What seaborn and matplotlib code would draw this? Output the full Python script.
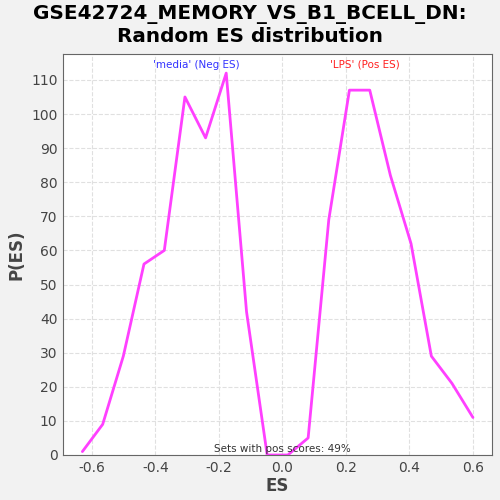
import matplotlib
matplotlib.use("Agg")
import matplotlib.pyplot as plt
import seaborn as sns
import pandas as pd

# ES values and their probabilities
es = [-0.630, -0.566, -0.501, -0.436, -0.372, -0.307, -0.242, -0.177, -0.113, -0.048,
      0.017, 0.081, 0.146, 0.211, 0.275, 0.340, 0.405, 0.469, 0.534, 0.600]
p_es = [1, 9, 29, 56, 60, 105, 93, 112, 42, 0,
        0, 5, 69, 107, 107, 82, 62, 29, 21, 11]
x_ticks = [-0.6, -0.4, -0.2, 0.0, 0.2, 0.4, 0.6]
y_ticks = [0, 10, 20, 30, 40, 50, 60, 70, 80, 90, 100, 110]

df = pd.DataFrame({'ES': es, 'P': p_es})

sns.set_style('white')
fig = plt.figure(figsize=(5, 5), dpi=100, facecolor='#f2f2f2')
ax = fig.add_axes([0.126, 0.09, 0.858, 0.802])
ax.set_facecolor('white')

sns.lineplot(x='ES', y='P', data=df, ax=ax, color='#ff40ff', linewidth=2)

ax.set_xlim(-0.691, 0.66)
ax.set_ylim(0, 117.6)
ax.set_xticks(x_ticks)
ax.set_xticklabels([f'{t:.1f}' for t in x_ticks])
ax.set_yticks(y_ticks)
ax.grid(True, color='#e0e0e0', linestyle='--', linewidth=0.8)
for s in ax.spines.values():
    s.set_color('#666666')
ax.tick_params(colors='#444444', labelsize=10, length=2, pad=2)

ax.set_xlabel('ES', fontsize=12, fontweight='bold', color='#444444', labelpad=2)
ax.set_ylabel('P(ES)', fontsize=12, fontweight='bold', color='#444444', labelpad=4)
fig.suptitle('GSE42724_MEMORY_VS_B1_BCELL_DN:\nRandom ES distribution',
             fontsize=14.4, fontweight='bold', color='black', y=0.99)

ax.text(-0.27, 114.5, "'media' (Neg ES)", color='#3333ff', fontsize=7.5, ha='center', va='center')
ax.text(0.26, 114.5, "'LPS' (Pos ES)", color='#ff2020', fontsize=7.5, ha='center', va='center')
ax.text(0.0, 1.8, 'Sets with pos scores: 49%', color='#333333', fontsize=7.5, ha='center', va='center')

plt.savefig('out.png', dpi=100, facecolor=fig.get_facecolor())
